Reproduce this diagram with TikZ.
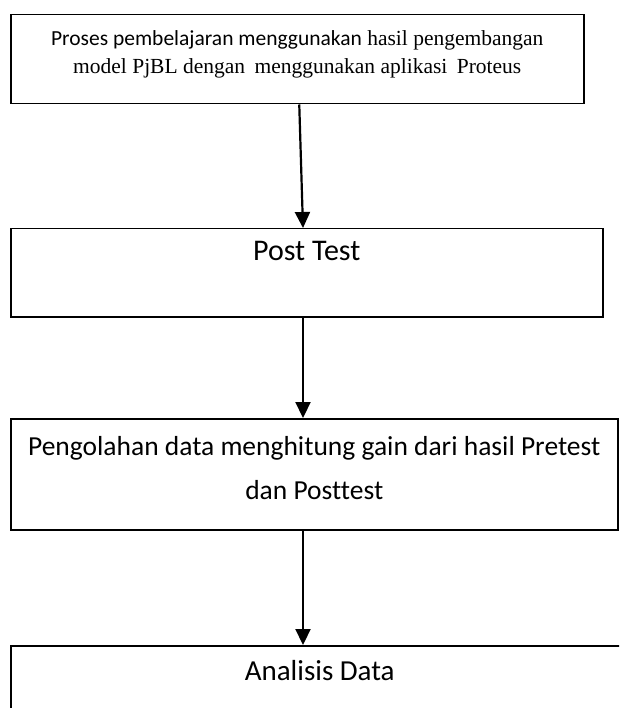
\documentclass[tikz,border=0pt]{standalone}
\usepackage{fontspec}
\setmainfont{Liberation Serif}
\newfontfamily\calibri[Ligatures=NoCommon]{Carlito}
\usetikzlibrary{arrows.meta,positioning}
\tikzset{
  stepbox/.style={draw, line width=1.5pt, anchor=north west, align=center,
                  inner xsep=0pt, inner ysep=0pt},
  arr/.style    ={-{Triangle[length=16pt,width=15pt]}, line width=2.2pt},
}

\begin{document}
\begin{tikzpicture}[x=1pt,y=-1pt]
  \useasboundingbox (0,0) rectangle (619,708);
  \clip (0,0) rectangle (619,708);

  \node[stepbox, minimum width=573pt, text height=59pt, text depth=30pt,
        font=\fontsize{21.5}{28}\selectfont] (proses) at (10,14)
        {{\calibri Proses pembelajaran menggunakan} hasil pengembangan\\
         model PjBL dengan\hspace{4pt} menggunakan aplikasi\hspace{4pt} Proteus};
  \node[stepbox, minimum width=592pt, text height=32pt, text depth=56pt,
        font=\calibri\fontsize{30}{36}\selectfont] (post) at (10,228)
        {Post Test};
  \node[stepbox, minimum width=607pt, text height=81pt, text depth=30pt,
        font=\calibri\fontsize{27.5}{44}\selectfont] (olah) at (10,418)
        {Pengolahan data menghitung gain dari hasil Pretest\\dan Posttest};
  \node[stepbox, minimum width=618pt, text height=35pt, text depth=90pt,
        font=\calibri\fontsize{29}{34}\selectfont] (analisis) at (10,645)
        {Analisis Data};

  \coordinate (ax) at (303,0);
  \draw[arr] ([xshift=2pt]proses.south) -- (post.north -| ax);
  \draw[arr] (post.south -| ax) -- (olah.north -| ax);
  \draw[arr] (olah.south -| ax) -- (analisis.north -| ax);
\end{tikzpicture}
\end{document}
